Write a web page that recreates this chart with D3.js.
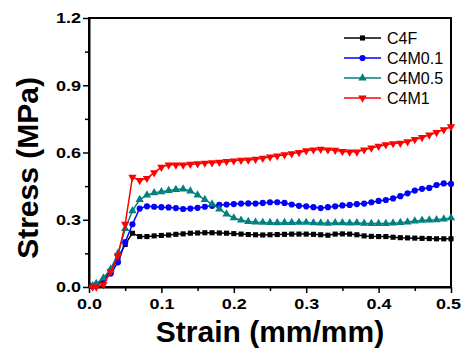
<!DOCTYPE html>
<html><head><meta charset="utf-8">
<script src="https://cdn.jsdelivr.net/npm/d3@7"></script>
<style>body{margin:0;background:#fff}svg{display:block}</style>
</head><body>
<script>
const strain = [0.005,0.01,0.02,0.03,0.04,0.05,0.06,0.07,0.08,0.09,0.10,0.11,0.12,0.13,0.14,0.15,0.16,0.17,0.18,0.19,0.20,0.21,0.22,0.23,0.24,0.25,0.26,0.27,0.28,0.29,0.30,0.31,0.32,0.33,0.34,0.35,0.36,0.37,0.38,0.39,0.40,0.41,0.42,0.43,0.44,0.45,0.46,0.47,0.48,0.49,0.50];
const c4f = [0.005,0.01,0.03,0.07,0.13,0.19,0.24,0.225,0.225,0.228,0.23,0.232,0.235,0.237,0.24,0.241,0.242,0.242,0.241,0.24,0.238,0.236,0.234,0.233,0.232,0.233,0.234,0.235,0.236,0.236,0.236,0.235,0.233,0.231,0.236,0.237,0.236,0.233,0.228,0.226,0.225,0.225,0.222,0.22,0.219,0.218,0.217,0.216,0.215,0.215,0.215];
const c4m01 = [0.003,0.01,0.03,0.06,0.11,0.2,0.28,0.35,0.36,0.358,0.356,0.355,0.352,0.348,0.35,0.353,0.358,0.362,0.366,0.368,0.37,0.372,0.373,0.372,0.375,0.378,0.378,0.375,0.368,0.362,0.36,0.356,0.352,0.356,0.36,0.364,0.366,0.37,0.372,0.378,0.384,0.388,0.395,0.405,0.418,0.43,0.438,0.442,0.455,0.462,0.46];
const c4m05 = [0.005,0.015,0.04,0.08,0.15,0.26,0.34,0.39,0.41,0.42,0.425,0.43,0.435,0.437,0.428,0.41,0.39,0.37,0.348,0.325,0.308,0.298,0.292,0.289,0.288,0.287,0.286,0.287,0.287,0.288,0.288,0.286,0.285,0.284,0.286,0.286,0.285,0.286,0.284,0.283,0.283,0.283,0.285,0.287,0.29,0.294,0.297,0.299,0.3,0.303,0.308];
const c4m1 = [0.0,0.0,0.01,0.07,0.14,0.28,0.49,0.475,0.485,0.51,0.535,0.545,0.545,0.545,0.548,0.55,0.553,0.555,0.557,0.56,0.563,0.566,0.567,0.57,0.575,0.58,0.585,0.59,0.595,0.6,0.608,0.612,0.615,0.612,0.61,0.605,0.603,0.603,0.612,0.62,0.628,0.635,0.64,0.642,0.648,0.658,0.667,0.678,0.69,0.702,0.715];
const seriesNames = ["C4F","C4M0.1","C4M0.5","C4M1"];
const xTicks = [0.0,0.1,0.2,0.3,0.4,0.5];
const yTicks = [0.0,0.3,0.6,0.9,1.2];

const series = [
  {name:seriesNames[0], values:c4f, color:"#000000", sym:d3.symbolSquare, size:26, rot:0},
  {name:seriesNames[1], values:c4m01, color:"#0000ff", sym:d3.symbolCircle, size:30, rot:0},
  {name:seriesNames[2], values:c4m05, color:"#008080", sym:d3.symbolTriangle, size:30, rot:0},
  {name:seriesNames[3], values:c4m1, color:"#ff0000", sym:d3.symbolTriangle, size:30, rot:180}
];

const W=463,H=350, L=89,R=451,T=18,B=287;
const FONT="'Liberation Sans',Arial,sans-serif";
const svg=d3.select("body").append("svg").attr("width",W).attr("height",H)
  .style("font-family",FONT);
const x=d3.scaleLinear().domain([0,0.5]).range([L,R]);
const y=d3.scaleLinear().domain([0,1.2]).range([B,T]);

// frame
svg.append("rect").attr("x",L).attr("y",T).attr("width",R-L).attr("height",B-T)
  .attr("fill","none").attr("stroke","#000").attr("stroke-width",2);

// minor ticks
const xMinor=[0.05,0.15,0.25,0.35,0.45], yMinor=[0.15,0.45,0.75,1.05];
svg.append("g").attr("transform",`translate(0,${B})`)
  .call(d3.axisBottom(x).tickValues(xMinor).tickSize(4).tickSizeOuter(0).tickFormat(""))
  .call(g=>{g.select(".domain").remove();g.selectAll("line").attr("stroke-width",1.5);});
svg.append("g").attr("transform",`translate(${L},0)`)
  .call(d3.axisLeft(y).tickValues(yMinor).tickSize(4).tickSizeOuter(0).tickFormat(""))
  .call(g=>{g.select(".domain").remove();g.selectAll("line").attr("stroke-width",1.5);});

const SX=1.2;
// major axes
const gx=svg.append("g").attr("transform",`translate(0,${B})`)
  .call(d3.axisBottom(x).tickValues(xTicks).tickSize(6).tickSizeOuter(0).tickPadding(5).tickFormat(d3.format(".1f")));
gx.select(".domain").attr("stroke-width",2);
gx.selectAll("line").attr("stroke-width",1.5);
gx.selectAll("text").attr("font-size",15).attr("font-weight","bold").attr("font-family",FONT).attr("fill","#000")
  .attr("x",(d,i)=> i===xTicks.length-1 ? -3/SX : 0)
  .attr("transform",`scale(${SX},1)`);
const gy=svg.append("g").attr("transform",`translate(${L},0)`)
  .call(d3.axisLeft(y).tickValues(yTicks).tickSize(6).tickSizeOuter(0).tickPadding(2).tickFormat(d3.format(".1f")));
gy.select(".domain").attr("stroke-width",2);
gy.selectAll("line").attr("stroke-width",1.5);
gy.selectAll("text").attr("font-size",15).attr("font-weight","bold").attr("font-family",FONT).attr("fill","#000")
  .attr("x",-8/SX).attr("transform",`scale(${SX},1)`);

// series
const line=d3.line().x((d,i)=>x(strain[i])).y(d=>y(d));
series.forEach(s=>{
  const g=svg.append("g");
  g.append("path").datum(s.values).attr("d",line).attr("fill","none")
    .attr("stroke",s.color).attr("stroke-width",1.5);
  const sym=d3.symbol().type(s.sym).size(s.size);
  g.selectAll("path.m").data(s.values).join("path").attr("class","m")
    .attr("d",sym).attr("fill",s.color)
    .attr("transform",(d,i)=>`translate(${x(strain[i])},${y(d)}) rotate(${s.rot})`);
});

// legend
series.forEach((s,i)=>{
  const yy=38+i*20;
  svg.append("line").attr("x1",344).attr("x2",381).attr("y1",yy).attr("y2",yy)
    .attr("stroke",s.color).attr("stroke-width",1.5);
  svg.append("path").attr("d",d3.symbol().type(s.sym).size(s.size)())
    .attr("fill",s.color).attr("transform",`translate(362.5,${yy}) rotate(${s.rot})`);
  svg.append("text").attr("x",387).attr("y",yy+5.5).attr("font-size",16).text(s.name);
});

// axis titles
svg.append("text").attr("x",(L+R)/2).attr("y",342).attr("text-anchor","middle")
  .attr("font-size",30).attr("font-weight","bold").text("Strain (mm/mm)");
svg.append("text").attr("transform",`translate(38,168) rotate(-90)`).attr("text-anchor","middle")
  .attr("font-size",30).attr("font-weight","bold").text("Stress (MPa)");
</script>
</body></html>
